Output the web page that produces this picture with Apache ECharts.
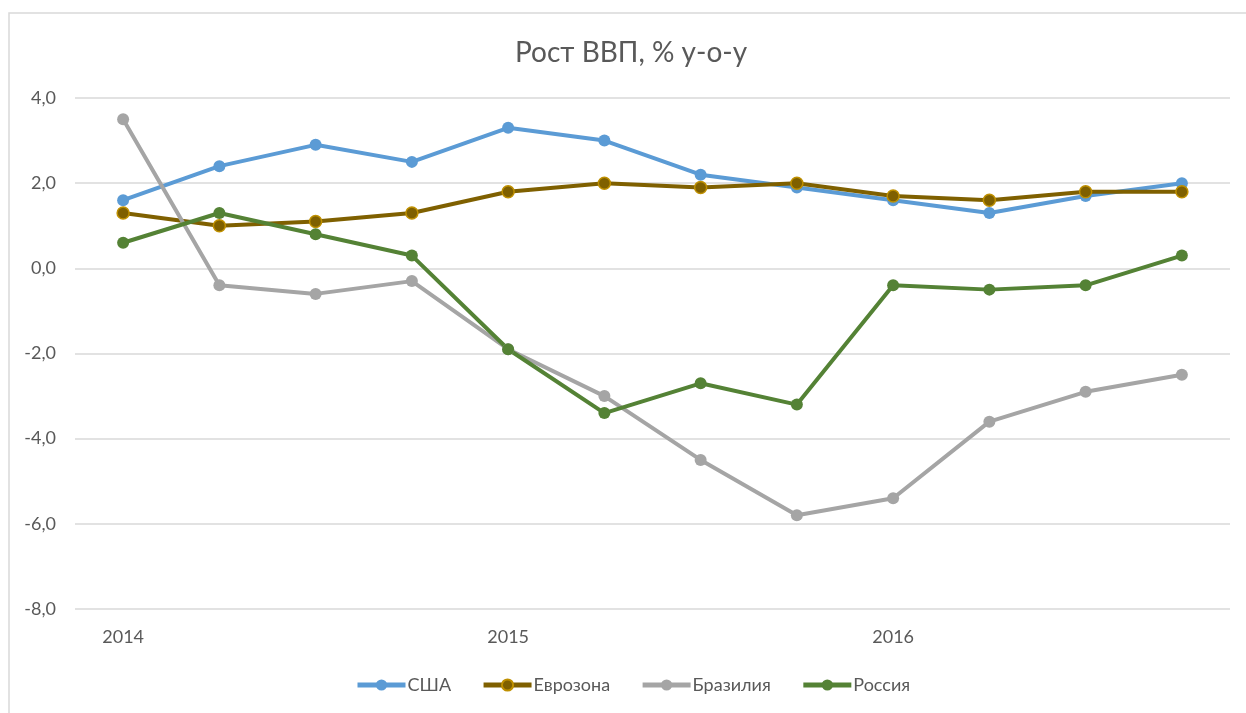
<!DOCTYPE html>
<html>
<head>
    <meta charset="utf-8">
    <title>Рост ВВП, % у-о-у</title>
    <script src="https://cdn.jsdelivr.net/npm/echarts@6/dist/echarts.min.js"></script>
    <style>
        html, body { margin: 0; padding: 0; background: #fff; }
    </style>
</head>
<body>
<div id="main" style="width: 1246px;height:713px;"></div>
<script type="text/javascript">
    // кварталы 2014-2016, подпись только у первого квартала года
    var quarters = ['2014', '', '', '', '2015', '', '', '', '2016', '', '', ''];
    var usa      = [1.6, 2.4, 2.9, 2.5, 3.3, 3.0, 2.2, 1.9, 1.6, 1.3, 1.7, 2.0];
    var eurozone = [1.3, 1.0, 1.1, 1.3, 1.8, 2.0, 1.9, 2.0, 1.7, 1.6, 1.8, 1.8];
    var brazil   = [3.5, -0.4, -0.6, -0.3, -1.9, -3.0, -4.5, -5.8, -5.4, -3.6, -2.9, -2.5];
    var russia   = [0.6, 1.3, 0.8, 0.3, -1.9, -3.4, -2.7, -3.2, -0.4, -0.5, -0.4, 0.3];
    var yTicks   = { min: -8, max: 4, step: 2 };

    var font = 'Lato, "Open Sans", sans-serif';
    var textColor = '#595959';

    function line(name, data, color, border) {
        return {
            name: name,
            type: 'line',
            data: data,
            symbol: 'circle',
            symbolSize: 12,
            lineStyle: { width: 4, color: color },
            itemStyle: { color: color, borderColor: border || color, borderWidth: border ? 1.5 : 0 }
        };
    }

    var myChart = echarts.init(document.getElementById('main'));
    myChart.setOption({
        animation: false,
        textStyle: { fontFamily: font },
        title: {
            text: 'Рост ВВП, % у-о-у',
            left: 510,
            top: 34,
            textStyle: { color: textColor, fontSize: 28, fontWeight: 'normal', fontFamily: font }
        },
        graphic: [{
            type: 'rect',
            shape: { x: 9, y: 13, width: 1260, height: 720 },
            style: { fill: 'none', stroke: '#d9d9d9', lineWidth: 1.5 },
            silent: true
        }],
        legend: {
            bottom: 14,
            left: 350,
            itemWidth: 48,
            itemHeight: 14,
            itemGap: 30,
            lineStyle: { width: 5 },
            textStyle: { color: textColor, fontSize: 18, fontFamily: font, padding: [0, 0, 0, -3] },
            data: ['США', 'Еврозона', 'Бразилия', 'Россия']
        },
        grid: { left: 75, right: 16, top: 98, bottom: 104, containLabel: false },
        xAxis: {
            type: 'category',
            data: quarters,
            boundaryGap: true,
            axisLine: { show: false },
            axisTick: { show: false },
            axisLabel: { interval: 0, color: textColor, fontSize: 18, margin: 19 }
        },
        yAxis: {
            type: 'value',
            min: yTicks.min,
            max: yTicks.max,
            interval: yTicks.step,
            axisLine: { show: false },
            axisTick: { show: false },
            splitLine: { lineStyle: { color: '#d9d9d9', width: 1.5 } },
            axisLabel: {
                color: textColor,
                fontSize: 18,
                margin: 19,
                formatter: function (v) { return v.toFixed(1).replace('.', ','); }
            }
        },
        series: [
            line('США', usa, '#5B9BD5'),
            line('Еврозона', eurozone, '#7F6000', '#BF9000'),
            line('Бразилия', brazil, '#A5A5A5'),
            line('Россия', russia, '#548235')
        ]
    });
</script>
</body>
</html>
